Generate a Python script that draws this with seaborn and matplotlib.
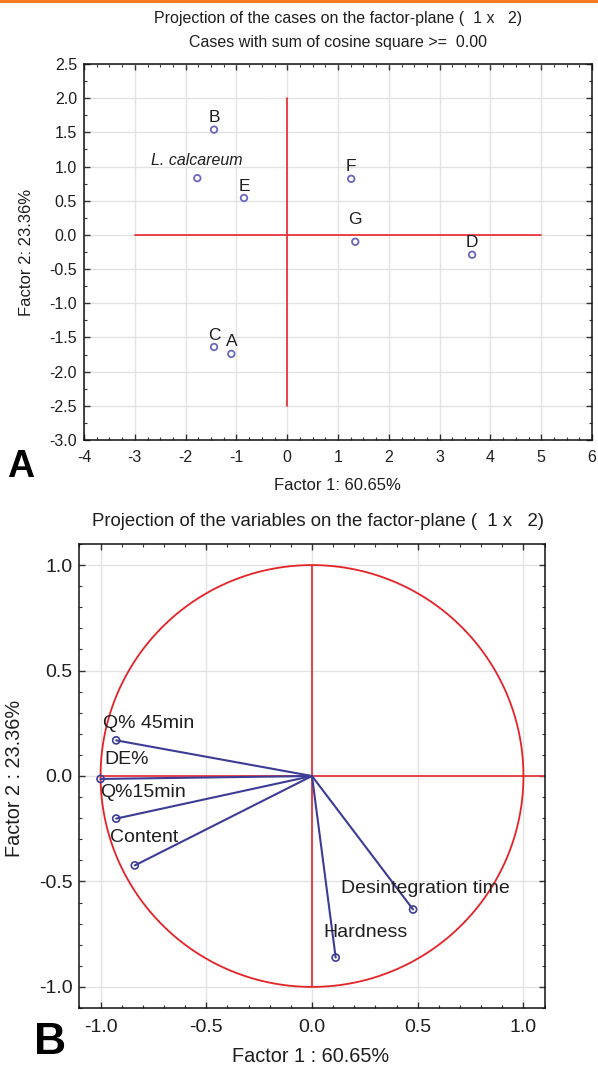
import matplotlib
matplotlib.use("Agg")
import matplotlib.pyplot as plt
import seaborn as sns
import pandas as pd
import numpy as np
from matplotlib.ticker import MultipleLocator, FormatStrFormatter

# panel A: case scores on factor 1 / factor 2
case_names = ["A", "B", "C", "D", "E", "F", "G", "L. calcareum"]
case_f1 = [-1.10, -1.44, -1.44, 3.64, -0.85, 1.26, 1.34, -1.77]
case_f2 = [-1.74, 1.54, -1.64, -0.29, 0.54, 0.82, -0.10, 0.83]

# panel B: variable loadings
var_names = ["Q% 45min", "DE%", "Q%15min", "Content", "Desintegration time", "Hardness"]
var_f1 = [-0.926, -1.0, -0.926, -0.838, 0.478, 0.112]
var_f2 = [0.169, -0.014, -0.202, -0.424, -0.633, -0.861]
# where the variable names sit (left edge, vertical centre)
var_label_x = [-0.99, -0.98, -1.0, -0.953, 0.135, 0.054]
var_label_y = [0.25, 0.08, -0.077, -0.29, -0.535, -0.74]

cases = pd.DataFrame({"name": case_names, "f1": case_f1, "f2": case_f2})
loads = pd.DataFrame({"name": var_names, "f1": var_f1, "f2": var_f2})

sns.set_theme(style="whitegrid")
plt.rcParams["font.family"] = ["Liberation Sans", "DejaVu Sans"]
plt.rcParams["axes.unicode_minus"] = False

TXT = "#1e1e1e"
RED = "#e8343c"
PT_COL = "#6868bc"
VEC_COL = "#3c3c96"
GRID = "#e2e2e2"

W, H = 598, 1069
fig = plt.figure(figsize=(W / 100, H / 100), dpi=100)
fig.patch.set_facecolor("white")


def px(x, y):
    return x / W, 1 - y / H


def style_axes(ax, major_x, minor_x, major_y, minor_y, fs):
    ax.set_facecolor("white")
    for s in ax.spines.values():
        s.set_color("#111111")
        s.set_linewidth(1.1)
    ax.xaxis.set_major_locator(MultipleLocator(major_x))
    ax.xaxis.set_minor_locator(MultipleLocator(minor_x))
    ax.yaxis.set_major_locator(MultipleLocator(major_y))
    ax.yaxis.set_minor_locator(MultipleLocator(minor_y))
    ax.grid(True, which="major", color=GRID, linewidth=1.0)
    ax.grid(False, which="minor")
    ax.tick_params(which="both", direction="in", top=True, right=True,
                   bottom=True, left=True, color="#333333", labelcolor=TXT,
                   labelsize=fs)
    ax.tick_params(which="major", length=4, width=1)
    ax.tick_params(which="minor", length=2.5, width=0.8)
    ax.set_axisbelow(True)


# ---------------- panel A ----------------
axA = fig.add_axes([84 / W, 1 - 440 / H, (592 - 84) / W, (440 - 64) / H])
style_axes(axA, 1, 0.25, 0.5, 0.25, 11.5)
axA.set_xlim(-4, 6)
axA.set_ylim(-3, 2.5)
axA.yaxis.set_major_formatter(FormatStrFormatter("%.1f"))
axA.xaxis.set_major_formatter(FormatStrFormatter("%d"))
axA.tick_params(axis="x", pad=7)
axA.tick_params(axis="y", pad=5)

axA.plot([-3, 5], [0, 0], color=RED, lw=1.3, zorder=2)
axA.plot([0, 0], [-2.5, 2.0], color=RED, lw=1.3, zorder=2)

sns.scatterplot(data=cases, x="f1", y="f2", ax=axA, marker="o", s=22,
                facecolors="none", edgecolor=PT_COL, linewidth=1.3, zorder=3)

lift = {"L. calcareum": 13, "G": 16}
for _, r in cases.iterrows():
    italic = r["name"].startswith("L.")
    axA.annotate(r["name"], (r["f1"], r["f2"]), xytext=(0, lift.get(r["name"], 8.6)),
                 textcoords="offset points", ha="center", va="center",
                 fontsize=11.5 if italic else 12.5, style="italic" if italic else "normal",
                 color=TXT, zorder=4)

axA.set_xlabel("")
axA.set_ylabel("")

fig.text(*px(338, 18), "Projection of the cases on the factor-plane (  1 x   2)",
         ha="center", va="center", fontsize=11.5, color=TXT)
fig.text(*px(338, 43), "Cases with sum of cosine square >=  0.00",
         ha="center", va="center", fontsize=11.5, color=TXT)
fig.text(*px(337, 486), "Factor 1: 60.65%", ha="center", va="center",
         fontsize=12, color=TXT)
fig.text(*px(27, 252), "Factor 2: 23.36%", ha="center", va="center",
         fontsize=12, color=TXT, rotation=90)
fig.text(*px(21, 467), "A", ha="center", va="center", fontsize=27,
         fontweight="bold", color="black")

# ---------------- panel B ----------------
axB = fig.add_axes([79.4 / W, 1 - 1008 / H, (544.6 - 79.4) / W, (1008 - 544) / H])
style_axes(axB, 0.5, 0.1, 0.5, 0.1, 14)
axB.set_xlim(-1.1, 1.1)
axB.set_ylim(-1.1, 1.1)
axB.xaxis.set_major_formatter(FormatStrFormatter("%.1f"))
axB.yaxis.set_major_formatter(FormatStrFormatter("%.1f"))
axB.tick_params(axis="x", pad=8)
axB.tick_params(axis="y", pad=5)

theta = np.linspace(0, 2 * np.pi, 400)
axB.plot(np.cos(theta), np.sin(theta), color="#e62226", lw=1.3, zorder=2)
axB.plot([-1.0, 1.1], [0, 0], color=RED, lw=1.3, zorder=2)
axB.plot([0, 0], [-1.0, 1.0], color=RED, lw=1.3, zorder=2)

for _, r in loads.iterrows():
    axB.plot([0, r["f1"]], [0, r["f2"]], color=VEC_COL, lw=1.5, zorder=3)
sns.scatterplot(data=loads, x="f1", y="f2", ax=axB, marker="o", s=26,
                facecolors="none", edgecolor=VEC_COL, linewidth=1.2, zorder=4)

for name, lx, ly in zip(var_names, var_label_x, var_label_y):
    axB.text(lx, ly, name, ha="left", va="center", fontsize=14, color=TXT, zorder=5)

axB.set_xlabel("")
axB.set_ylabel("")

fig.text(*px(318, 522), "Projection of the variables on the factor-plane (  1 x   2)",
         ha="center", va="center", fontsize=13.4, color=TXT)
fig.text(*px(311, 1057), "Factor 1 : 60.65%", ha="center", va="center",
         fontsize=14.3, color=TXT)
fig.text(*px(15, 778), "Factor 2 : 23.36%", ha="center", va="center",
         fontsize=14.3, color=TXT, rotation=90)
fig.text(*px(50, 1043), "B", ha="center", va="center", fontsize=32,
         fontweight="bold", color="black")

# thin orange rule along the top edge
fig.add_artist(plt.Rectangle((0, 1 - 2.5 / H), 1, 2.5 / H, transform=fig.transFigure,
                             color="#f47b20", lw=0))

fig.savefig("out.png", dpi=100)
